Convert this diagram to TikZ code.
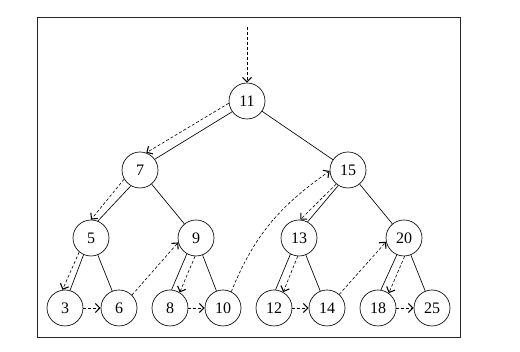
\documentclass[tikz,border=0pt]{standalone}
\usepackage{fontspec}
\setmainfont{Liberation Serif}
\usetikzlibrary{arrows.meta,calc}
\begin{document}
\begin{tikzpicture}[x=1pt,y=1pt,
  vnode/.style={circle,draw,line width=0.65pt,minimum size=36pt,inner sep=0pt,font=\fontsize{16}{16}\selectfont},
  edge/.style={line width=0.65pt},
  darr/.style={line width=0.6pt,dash pattern=on 3pt off 2pt,-{Straight Barb[length=4.5pt,width=9pt,line width=1.1pt]}},
  frame/.style={line width=0.9pt,draw=black!85}]
\useasboundingbox (0,0) rectangle (520,352);
\draw[frame] (37,15) rectangle (460,335);
% nodes
\node[vnode] (n11) at (247,251) {11};
\node[vnode] (n7)  at (140,182) {7};
\node[vnode] (n15) at (348,182) {15};
\node[vnode] (n5)  at (91,114)  {5};
\node[vnode] (n9)  at (196,114) {9};
\node[vnode] (n13) at (299,114) {13};
\node[vnode] (n20) at (404,114) {20};
\node[vnode] (n3)  at (65,44)  {3};
\node[vnode] (n6)  at (119,44) {6};
\node[vnode] (n8)  at (170,44) {8};
\node[vnode] (n10) at (223,44) {10};
\node[vnode] (n12) at (274,44) {12};
\node[vnode] (n14) at (327,44) {14};
\node[vnode] (n18) at (378,44) {18};
\node[vnode] (n25) at (432,44) {25};
\coordinate (top) at (247,325);
% tree edges
\draw[edge] (n11.216) -- (n7.36);
\draw[edge] (n11) -- (n15);
\draw[edge] (n7.240) -- (n5.68);
\draw[edge] (n7) -- (n9);
\draw[edge] (n15.238) -- (n13.62);
\draw[edge] (n15) -- (n20);
\draw[edge] (n5.246) -- (n3.74);
\draw[edge] (n5) -- (n6);
\draw[edge] (n9.240) -- (n8.85);
\draw[edge] (n9) -- (n10);
\draw[edge] (n13.242) -- (n12.85);
\draw[edge] (n13) -- (n14);
\draw[edge] (n20.247) -- (n18.81);
\draw[edge] (n20) -- (n25);
% traversal arrows
\draw[darr] (top) -- (n11.north);
\draw[darr] (n11.187) -- (n7.70);
\draw[darr] (n7.210) -- (n5.90);
\draw[darr] (n5.230) -- (n3.98);
\draw[darr] (n3.east) -- (n6.west);
\draw[darr] (n6.45) -- (n9.194);
\draw[darr] (n9.267) -- (n8.58);
\draw[darr] (n8.east) -- (n10.west);
\draw[darr] (n10.63) to[out=68,in=215] (n15.183);
\draw[darr] (n15.230) -- (n13.86);
\draw[darr] (n13.266) -- (n12.60);
\draw[darr] (n12.east) -- (n14.west);
\draw[darr] (n14.48) -- (n20.192);
\draw[darr] (n20.272) -- (n18.54);
\draw[darr] (n18.east) -- (n25.west);
\end{tikzpicture}
\end{document}
